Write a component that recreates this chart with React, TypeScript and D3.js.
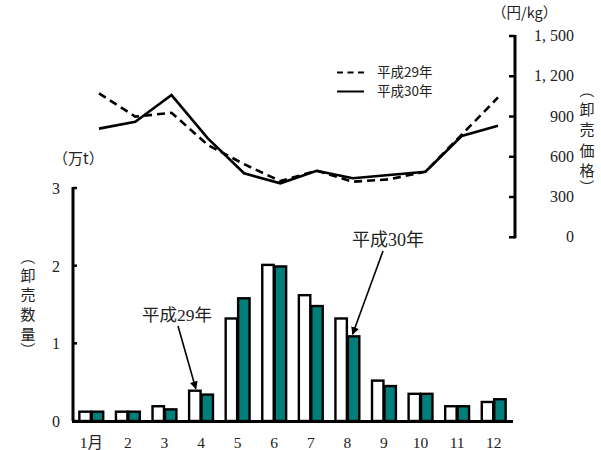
import React from "react";
import * as d3 from "d3";

const months = ["1月", "2", "3", "4", "5", "6", "7", "8", "9", "10", "11", "12"];
const volumeH29 = [0.12, 0.12, 0.19, 0.39, 1.32, 2.01, 1.62, 1.32, 0.52, 0.35, 0.19, 0.245];
const volumeH30 = [0.12, 0.12, 0.15, 0.34, 1.58, 1.99, 1.48, 1.09, 0.45, 0.35, 0.19, 0.28];
const priceH29 = [1073, 899, 928, 688, 545, 419, 496, 414, 432, 489, 765, 1042];
const priceH30 = [810, 860, 1060, 737, 477, 402, 496, 440, 464, 489, 755, 831];
const volTicks = [0, 1, 2, 3];
const priceTicks = [0, 300, 600, 900, 1200, 1500];
const priceTickLabels = ["0", "300", "600", "900", "1, 200", "1, 500"];
const legendLabels = ["平成29年", "平成30年"];
const rightAxisTitle = ["（", "卸", "売", "価", "格", "）"];
const leftAxisTitle = ["（", "卸", "売", "数", "量", "）"];

const TEAL = "#007f7a";
const SERIF = "'Liberation Serif', 'DejaVu Serif', 'Noto Sans CJK JP', serif";
const SANS = "'Noto Sans CJK JP', 'Noto Sans', sans-serif";

function VerticalLabel({ chars, cx, y0, step, size }: { chars: string[]; cx: number; y0: number; step: number; size: number }) {
  const n = chars.length;
  return (
    <g fontFamily={SANS} fontSize={size} fill="#222">
      {chars.map((c, i) => {
        const isParen = c === "（" || c === "）";
        let cy = y0 + step * (i - 1);
        if (i === 0) cy = y0 - step * 0.85;
        if (i === n - 1) cy = y0 + step * (n - 3) + step * 0.85;
        return (
          <text
            key={i}
            x={cx}
            y={cy}
            textAnchor="middle"
            dominantBaseline="central"
            transform={isParen ? `rotate(90 ${cx} ${cy})` : undefined}
          >
            {c}
          </text>
        );
      })}
    </g>
  );
}

export default function App() {
  const x = d3.scaleBand<string>().domain(months).range([73, 512]).paddingInner(0.32).paddingOuter(0.16);
  const bw = x.bandwidth() / 2;
  const yV = d3.scaleLinear().domain([0, 3]).range([421, 188]);
  const xP = d3.scalePoint<string>().domain(months).range([99, 498]);
  const yP = d3.scaleLinear().domain([0, 1500]).range([237.3, 36]);
  const line = d3
    .line<number>()
    .x((_, i) => xP(months[i]) as number)
    .y((d) => yP(d));

  return (
    <svg width={601} height={450} style={{ position: "absolute", left: 0, top: 0 }}>
      <rect width={601} height={450} fill="#fff" />
      {/* Price lines */}
      <path d={line(priceH29) || ""} fill="none" stroke="#000" strokeWidth={2.6} strokeDasharray="8,5" />
      <path d={line(priceH30) || ""} fill="none" stroke="#000" strokeWidth={2.6} />
      {/* Right axis */}
      <line x1={515} x2={515} y1={yP(1500) - 1} y2={yP(0) + 1} stroke="#000" strokeWidth={3} />
      {priceTicks.map((t, i) => (
        <g key={t}>
          <line x1={509} x2={515} y1={yP(t)} y2={yP(t)} stroke="#000" strokeWidth={2.5} />
          <text x={574} y={yP(t) + 5} textAnchor="end" fontFamily={SERIF} fontSize={16} fill="#222">
            {priceTickLabels[i]}
          </text>
        </g>
      ))}
      <text x={492} y={18} fontFamily={SANS} fontSize={14.5} fill="#222">
        （円/kg）
      </text>
      <VerticalLabel chars={rightAxisTitle} cx={587} y0={108} step={20.5} size={15} />
      {/* Legend */}
      <line x1={337} x2={364} y1={72.5} y2={72.5} stroke="#000" strokeWidth={2} strokeDasharray="6,4.5" />
      <line x1={337} x2={364} y1={91.5} y2={91.5} stroke="#000" strokeWidth={2} />
      <text x={377} y={77} fontFamily={SANS} fontSize={13.5} fill="#222">
        {legendLabels[0]}
      </text>
      <text x={377} y={96} fontFamily={SANS} fontSize={13.5} fill="#222">
        {legendLabels[1]}
      </text>

      {/* Bars */}
      {months.map((m, i) => (
        <g key={m}>
          <rect
            x={(x(m) as number) + 0.5}
            y={yV(volumeH29[i])}
            width={bw - 1}
            height={yV(0) - yV(volumeH29[i])}
            fill="#fff"
            stroke="#000"
            strokeWidth={2.4}
          />
          <rect
            x={(x(m) as number) + bw + 0.5}
            y={yV(volumeH30[i])}
            width={bw - 1}
            height={yV(0) - yV(volumeH30[i])}
            fill={TEAL}
            stroke="#000"
            strokeWidth={2.4}
          />
          <text
            x={(x(m) as number) + x.bandwidth() / 2}
            y={448}
            textAnchor="middle"
            fontFamily={SERIF}
            fontSize={15.5}
            fill="#222"
          >
            {m}
          </text>
        </g>
      ))}
      {/* Left axis */}
      <line x1={73} x2={73} y1={yV(3) - 1} y2={yV(0)} stroke="#000" strokeWidth={3} />
      <line x1={72} x2={513} y1={yV(0) + 0.5} y2={yV(0) + 0.5} stroke="#000" strokeWidth={3} />
      {volTicks.map((t) => (
        <g key={t}>
          <line x1={73} x2={77} y1={yV(t)} y2={yV(t)} stroke="#000" strokeWidth={2.5} />
          <text x={60} y={yV(t) + 6} textAnchor="end" fontFamily={SERIF} fontSize={16} fill="#222">
            {t}
          </text>
        </g>
      ))}
      <text x={53} y={164} fontFamily={SANS} fontSize={15} fill="#222">
        （万t）
      </text>
      <VerticalLabel chars={leftAxisTitle} cx={28} y0={274} step={19.7} size={15} />

      {/* Annotations */}
      <defs>
        <marker id="ah" viewBox="0 0 10 10" refX={9} refY={5} markerWidth={5} markerHeight={5} orient="auto">
          <path d="M0,0 L10,5 L0,10 z" fill="#000" />
        </marker>
      </defs>
      <text x={177} y={321} textAnchor="middle" fontFamily={SERIF} fontSize={17.5} fill="#222">
        {legendLabels[0]}
      </text>
      <line
        x1={178}
        y1={326}
        x2={(x("4") as number) + bw / 2 + 1}
        y2={yV(volumeH29[3]) - 2}
        stroke="#000"
        strokeWidth={1.6}
        markerEnd="url(#ah)"
      />
      <text x={388} y={246} textAnchor="middle" fontFamily={SERIF} fontSize={18} fill="#222">
        {legendLabels[1]}
      </text>
      <line
        x1={383}
        y1={251}
        x2={(x("8") as number) + bw + bw / 2 - 1}
        y2={yV(volumeH30[7]) - 2}
        stroke="#000"
        strokeWidth={1.6}
        markerEnd="url(#ah)"
      />
    </svg>
  );
}
